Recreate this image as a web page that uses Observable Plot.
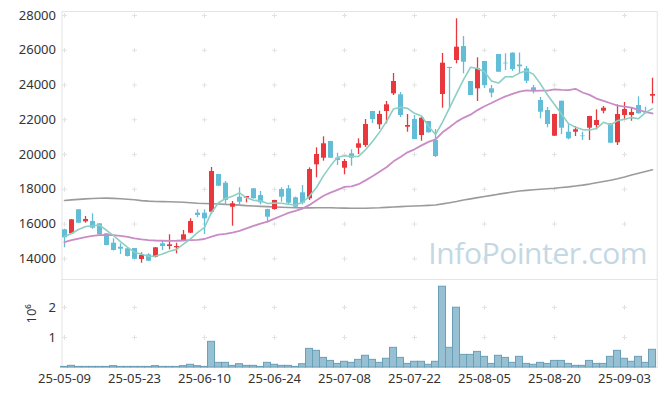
<!DOCTYPE html>
<html><head><meta charset="utf-8">
<script src="https://cdn.jsdelivr.net/npm/d3@7"></script>
<script src="https://cdn.jsdelivr.net/npm/@observablehq/plot@0.6"></script>
<style>
html,body{margin:0;padding:0;background:#fff;}
#chart{width:665px;height:397px;font-family:"Noto Sans",sans-serif;}
#chart svg{display:block;}
</style></head><body><div id="chart"></div>
<script>
// ---- data ----
const dates = [
"25-05-09","25-05-12","25-05-13","25-05-14","25-05-15","25-05-16","25-05-19","25-05-20","25-05-21","25-05-22",
"25-05-23","25-05-26","25-05-27","25-05-28","25-05-29","25-05-30","25-06-02","25-06-04","25-06-05","25-06-09",
"25-06-10","25-06-11","25-06-12","25-06-13","25-06-16","25-06-17","25-06-18","25-06-19","25-06-20","25-06-23",
"25-06-24","25-06-25","25-06-26","25-06-27","25-06-30","25-07-01","25-07-02","25-07-03","25-07-04","25-07-07",
"25-07-08","25-07-09","25-07-10","25-07-11","25-07-14","25-07-15","25-07-16","25-07-17","25-07-18","25-07-21",
"25-07-22","25-07-23","25-07-24","25-07-25","25-07-28","25-07-29","25-07-30","25-07-31","25-08-01","25-08-04",
"25-08-05","25-08-06","25-08-07","25-08-08","25-08-11","25-08-12","25-08-13","25-08-14","25-08-18","25-08-19",
"25-08-20","25-08-21","25-08-22","25-08-25","25-08-26","25-08-27","25-08-28","25-08-29","25-09-01","25-09-02",
"25-09-03","25-09-04","25-09-05","25-09-08","25-09-09"];

const open = [15669,15438,16820,16129,16146,16012,15438,14898,14667,14575,
14593,13960,14230,14092,14863,14708,14633,15013,15473,16627,
16627,16681,18851,18350,16969,17544,17487,18028,17642,16834,
16834,17988,18028,17510,17797,17452,19409,19789,20750,19789,
19213,20040,20364,20519,22476,21710,22476,23494,23437,21572,
22015,21095,21900,20807,23454,25007,25410,26215,24202,23782,
25352,23782,25755,25255,25830,25150,24932,23839,23109,22533,
21054,23068,21285,21285,21065,21515,21670,22493,21768,20675,
22246,22246,22821,22476,23356];
const high = [15703,16260,16830,16434,16589,16020,15450,15151,14863,14590,
14600,14345,14288,14650,14995,15381,14898,15628,16301,16820,
16820,19253,18860,18448,17297,18085,17585,18040,17872,16850,
17370,18085,18218,17550,18218,19234,20387,21020,20760,20076,
19714,20272,20905,22015,22480,22493,23051,24662,23569,22303,
22246,22148,21910,21440,25813,25026,27810,26791,24210,25565,
25360,23972,25760,25795,25853,25842,25065,23972,23281,22706,
22320,23070,21768,21612,21285,22200,22574,22763,21770,22861,
22994,22688,23321,22725,24392];
const low = [14633,15420,16040,16048,15703,15360,14740,14450,14247,14110,
13960,13747,13840,14050,14478,14518,14288,14990,15450,16359,
15398,16549,18150,17067,15876,17009,17222,17440,17107,16071,
16800,17257,17107,16900,17107,17355,18661,19616,19780,19368,
18833,19328,20002,20404,21785,21440,21768,23396,22131,21285,
20850,20767,21240,19829,22666,22666,25220,24645,23390,23051,
23800,23264,24730,24835,24777,24662,24087,23494,22054,21538,
21040,21150,20847,21037,20807,20807,21423,22343,20640,20519,
21957,21918,22330,22343,22918];
const close = [15208,16244,16048,16261,15761,15380,14765,14478,14552,14132,
13977,14190,13862,14633,14708,14805,14708,15381,16146,16491,
16301,19023,18177,17355,17165,17257,17585,17452,17222,16394,
17355,17544,17200,16969,17200,19138,20002,20617,19789,19656,
19599,19789,20617,21727,22015,22303,22861,24202,22246,21670,
20865,22090,21250,19886,25255,24950,26176,25312,23396,24932,
23972,23530,24737,25220,24892,25050,24219,23684,22436,21727,
22303,21515,20905,21423,21030,22188,21957,22666,20652,22303,
22591,22418,22343,22400,23454];
const volume = [20000,55000,20000,20000,20000,20000,20000,45000,20000,20000,
20000,20000,20000,45000,20000,20000,20000,45000,90000,45000,
20000,855000,155000,155000,55000,110000,55000,55000,20000,155000,
90000,55000,55000,20000,110000,620000,555000,320000,220000,120000,
190000,155000,255000,390000,255000,155000,290000,655000,320000,120000,
190000,190000,90000,190000,2690000,655000,1990000,420000,420000,520000,
355000,120000,390000,320000,155000,355000,120000,90000,155000,120000,
220000,220000,120000,55000,55000,220000,120000,120000,355000,555000,
290000,190000,355000,155000,590000];
const ma5 = [15281,15456,15686,15859,15904,15939,15643,15329,14987,14661,
14381,14266,14143,14159,14274,14440,14543,14847,15150,15506,
15805,16668,17228,17469,17604,17795,17508,17363,17336,17182,
17202,17193,17143,17092,17254,17610,18102,18785,19349,19840,
19933,19890,19890,20278,20749,21290,21905,22622,22725,22656,
22369,22215,21624,21152,21869,22686,23503,24316,25018,24953,
24758,24228,24113,24478,24470,24686,24824,24613,24056,23423,
22874,22333,21777,21575,21435,21412,21501,21853,21699,21953,
22034,22126,22061,22411,22641];
const ma20 = [14955,15070,15168,15243,15323,15358,15381,15358,15323,15266,
15180,15120,15080,15053,15040,15035,15040,15055,15075,15087,
15141,15280,15387,15441,15511,15605,15746,15895,16029,16142,
16311,16478,16645,16762,16887,17103,17368,17630,17812,17970,
18135,18173,18295,18514,18756,19009,19272,19610,19861,20125,
20300,20528,20730,20876,21279,21569,21878,22113,22293,22557,
22776,22963,23169,23343,23487,23625,23693,23667,23676,23679,
23751,23722,23705,23782,23570,23432,23221,23089,22952,22820,
22751,22696,22576,22435,22363];
const ma120 = [17355,17390,17420,17450,17470,17485,17490,17480,17460,17430,
17400,17350,17320,17300,17290,17280,17270,17257,17230,17200,
17185,17170,17150,17130,17120,17090,17060,17040,17020,17005,
16985,16965,16950,16935,16930,16930,16935,16935,16935,16925,
16915,16910,16910,16910,16920,16935,16960,16985,17005,17025,
17040,17055,17075,17100,17160,17230,17300,17380,17450,17520,
17590,17650,17720,17780,17840,17900,17940,17970,18000,18030,
18060,18100,18140,18190,18240,18300,18380,18450,18520,18610,
18710,18820,18920,19020,19120];
const tickLabels = ["25-05-09","25-05-23","25-06-10","25-06-24","25-07-08","25-07-22","25-08-05","25-08-20","25-09-03"];
const priceTicks = [14000,16000,18000,20000,22000,24000,26000,28000];
const volumeTicks = [1000000,2000000];
const watermark = "InfoPointer.com";
const volumeExponent = "10⁶";

// ---- build table ----
const rows = dates.map((d, i) => ({i, date: d, open: open[i], high: high[i], low: low[i], close: close[i],
  volume: volume[i], ma5: ma5[i], ma20: ma20[i], ma120: ma120[i]}));
const xTickIdx = tickLabels.map(t => dates.indexOf(t));

const RED = "#e8383d", BLUE = "#63bdd6";
const W = 665, ML = 61.5, MR = 8.3;
const xDomain = [-0.36, 84.67];
const font = {fontFamily: "'Noto Sans', sans-serif", fontSize: "13px", color: "#333", background: "transparent", overflow: "visible"};

const priceCross = priceTicks.flatMap(y => xTickIdx.map(x => ({x, y})));
const volCross = volumeTicks.flatMap(y => xTickIdx.map(x => ({x, y})));
const up = d => d.close >= d.open;

const price = Plot.plot({
  width: W, height: 279, marginLeft: ML, marginRight: MR, marginTop: 11, marginBottom: 0,
  style: font,
  x: {type: "linear", domain: xDomain, axis: null},
  y: {domain: [12810, 28230], ticks: priceTicks, tickFormat: d => String(d), tickSize: 0, tickPadding: 6, label: null},
  marks: [
    Plot.dot(priceCross, {x: "x", y: "y", symbol: "plus", r: 1.7, stroke: "#e2e2e2", strokeWidth: 1}),
    Plot.text([watermark], {frameAnchor: "bottom-right", dx: -10, dy: -16, lineAnchor: "bottom", textAnchor: "end",
      fontSize: 30, fill: "#c4d8e4", fontFamily: "'Open Sans', sans-serif"}),
    Plot.frame({stroke: "#e4e4e4"}),
    Plot.line(rows, {x: "i", y: "ma120", stroke: "#9b9b9b", strokeWidth: 1.6}),
    Plot.ruleX(rows, {filter: up, x: "i", y1: "low", y2: "high", stroke: RED, strokeWidth: 1.3}),
    Plot.ruleX(rows, {filter: d => !up(d), x: "i", y1: "low", y2: "high", stroke: BLUE, strokeWidth: 1.3}),
    Plot.ruleX(rows, {filter: up, x: "i", y1: "open", y2: "close", stroke: RED, strokeWidth: 5}),
    Plot.ruleX(rows, {filter: d => !up(d), x: "i", y1: "open", y2: "close", stroke: BLUE, strokeWidth: 5}),
    Plot.line(rows, {x: "i", y: "ma20", stroke: "#c98cc6", strokeWidth: 1.8}),
    Plot.line(rows, {x: "i", y: "ma5", stroke: "#8ccfc3", strokeWidth: 1.6})
  ]
});

const vol = Plot.plot({
  width: W, height: 118, marginLeft: ML, marginRight: MR, marginTop: 0, marginBottom: 30,
  style: font,
  x: {type: "linear", domain: xDomain, ticks: xTickIdx, tickFormat: i => dates[i], tickSize: 0, tickPadding: 6, label: null},
  y: {domain: [0, 2930000], ticks: volumeTicks, tickFormat: d => d / 1e6, tickSize: 0, tickPadding: 6, label: null},
  marks: [
    Plot.dot(volCross, {x: "x", y: "y", symbol: "plus", r: 1.7, stroke: "#e2e2e2", strokeWidth: 1}),
    Plot.frame({stroke: "#e4e4e4"}),
    Plot.rectY(rows, {x1: d => d.i - 0.5, x2: d => d.i + 0.5, y: "volume", fill: "#97c0d3", stroke: "#6a9fb8", strokeWidth: 1}),
    Plot.text([volumeExponent], {frameAnchor: "left", dx: -30, rotate: -90, fontSize: 13, fill: "#333"})
  ]
});

const el = document.getElementById("chart");
el.appendChild(price);
el.appendChild(vol);
// slightly tighten the watermark to the reference's width
d3.select(price).selectAll("text").filter(function() { return this.textContent === watermark; })
  .style("letter-spacing", "-0.4px");
</script></body></html>
